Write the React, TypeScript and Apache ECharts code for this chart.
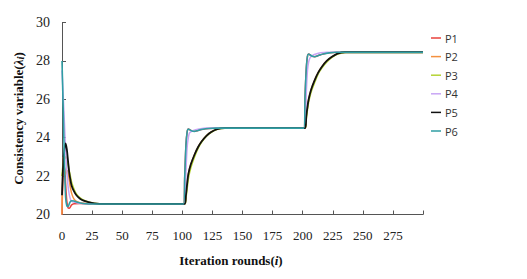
import React, { useEffect, useRef } from "react";
import * as echarts from "echarts";

const seriesNames = ["P1", "P2", "P3", "P4", "P5", "P6"];
const xTickLabels = ["0", "25", "50", "75", "100", "125", "150", "175", "200", "225", "250", "275"];
const yTickLabels = ["20", "22", "24", "26", "28", "30"];

const p1: [number, number][] = [
  [0, 20.0], [1, 22.3], [2, 22.5], [3, 21.6], [4, 20.7], [5, 20.35], [6, 20.32], [7, 20.4], [8, 20.5], [10, 20.56], [15, 20.57], [25, 20.55],
  [101, 20.55], [102, 22.0], [103, 23.6], [104, 24.3], [105, 24.45], [106, 24.42], [108, 24.35], [110, 24.33], [113, 24.38], [117, 24.44], [122, 24.48], [128, 24.5],
  [201, 24.5], [202, 26.2], [203, 27.6], [204, 28.25], [205, 28.36], [206, 28.32], [208, 28.24], [210, 28.22], [213, 28.28], [217, 28.36], [222, 28.42], [228, 28.45], [300, 28.45],
];
const p2: [number, number][] = [
  [0, 20.0], [1, 23.0], [2, 22.2], [3, 22.1], [4, 22.3], [5, 22.2], [6, 21.8], [7, 21.4], [8, 21.1], [10, 20.8], [13, 20.65], [18, 20.58], [25, 20.55],
  [102, 20.55], [103, 21.0], [104, 21.6], [105, 22.1], [107, 22.6], [110, 23.1], [113, 23.5], [116, 23.8], [120, 24.1], [124, 24.3], [129, 24.45], [135, 24.5],
  [202, 24.5], [203, 25.1], [204, 25.6], [205, 26.0], [207, 26.5], [210, 27.0], [213, 27.4], [216, 27.7], [220, 28.0], [224, 28.2], [229, 28.38], [235, 28.45], [300, 28.45],
];
const p3: [number, number][] = [
  [0, 22.0], [1, 22.6], [2, 22.9], [3, 23.0], [4, 22.9], [5, 22.6], [6, 22.25], [7, 21.95], [8, 21.65], [10, 21.3], [12, 21.05], [15, 20.86], [18, 20.74], [22, 20.65], [27, 20.58], [35, 20.55],
  [102, 20.55], [103, 20.9], [104, 21.4], [105, 21.9], [107, 22.45], [110, 23.0], [113, 23.45], [116, 23.78], [120, 24.08], [124, 24.28], [129, 24.44], [136, 24.5],
  [202, 24.5], [203, 25.0], [204, 25.5], [205, 25.9], [207, 26.4], [210, 26.9], [213, 27.35], [216, 27.65], [220, 27.95], [224, 28.17], [229, 28.36], [236, 28.45], [300, 28.45],
];
const p4: [number, number][] = [
  [0, 27.5], [1, 26.2], [2, 24.8], [3, 23.4], [4, 22.3], [5, 21.5], [6, 21.05], [7, 20.8], [8, 20.68], [10, 20.65], [13, 20.6], [20, 20.56], [30, 20.55],
  [102, 20.55], [103, 22.2], [104, 23.5], [105, 24.0], [106, 24.25], [108, 24.35], [111, 24.42], [115, 24.47], [120, 24.5],
  [202, 24.5], [203, 26.3], [204, 27.5], [205, 27.95], [206, 28.15], [208, 28.28], [211, 28.36], [215, 28.42], [220, 28.45], [300, 28.45],
];
const p5: [number, number][] = [
  [0, 21.0], [1, 22.6], [2, 23.4], [3, 23.7], [4, 23.4], [5, 22.8], [6, 22.2], [7, 21.8], [8, 21.5], [10, 21.2], [12, 21.0], [15, 20.82], [18, 20.72], [22, 20.64], [27, 20.58], [35, 20.55],
  [102, 20.55], [103, 21.0], [104, 21.6], [105, 22.1], [107, 22.6], [110, 23.1], [113, 23.5], [116, 23.8], [120, 24.1], [124, 24.3], [129, 24.45], [135, 24.5],
  [202, 24.5], [203, 25.1], [204, 25.6], [205, 26.0], [207, 26.5], [210, 27.0], [213, 27.4], [216, 27.7], [220, 28.0], [224, 28.2], [229, 28.38], [235, 28.45], [300, 28.45],
];
const p6: [number, number][] = [
  [0, 28.0], [1, 25.5], [2, 22.8], [3, 20.9], [4, 20.45], [5, 20.42], [6, 20.55], [7, 20.68], [8, 20.72], [10, 20.7], [12, 20.65], [15, 20.6], [20, 20.56], [25, 20.55],
  [101, 20.55], [102, 22.0], [103, 23.6], [104, 24.3], [105, 24.45], [106, 24.42], [108, 24.35], [110, 24.33], [113, 24.38], [117, 24.44], [122, 24.48], [128, 24.5],
  [201, 24.5], [202, 26.2], [203, 27.6], [204, 28.25], [205, 28.36], [206, 28.32], [208, 28.24], [210, 28.22], [213, 28.28], [217, 28.36], [222, 28.42], [228, 28.45], [300, 28.45],
];

const seriesData = [p1, p2, p3, p4, p5, p6];
const colors = ["#e8423c", "#f4913f", "#b5d334", "#c9a6f5", "#111111", "#2f9ea3"];
const widths = [1.5, 1.5, 1.8, 1.5, 1.8, 1.6];

export default function App() {
  const ref = useRef<HTMLDivElement>(null);
  useEffect(() => {
    if (!ref.current) return;
    const chart = echarts.init(ref.current, null, { renderer: "svg" });
    const serif = "Liberation Serif";
    chart.setOption({
      animation: false,
      backgroundColor: "#ffffff",
      grid: { left: 62, right: 104, top: 22.5, bottom: 64.5, containLabel: false },
      legend: {
        orient: "vertical",
        left: 431,
        top: 32,
        padding: 0,
        icon: "rect",
        itemWidth: 10,
        itemHeight: 1.5,
        itemGap: 6.6,
        data: seriesNames,
        textStyle: { fontFamily: "Open Sans", fontSize: 11, lineHeight: 12, color: "#333", padding: [0, 0, 0, -1] },
      },
      xAxis: {
        type: "value",
        min: 0,
        max: 300,
        interval: 25,
        axisLine: { show: true, lineStyle: { color: "#555", width: 1 } },
        axisTick: { show: true, inside: true, length: 4, lineStyle: { color: "#555" } },
        splitLine: { show: false },
        axisLabel: {
          fontFamily: serif,
          fontSize: 13,
          color: "#222",
          margin: 14,
          formatter: (v: number) => {
            const s = String(v);
            return xTickLabels.includes(s) ? s : "";
          },
        },
      },
      yAxis: {
        type: "value",
        min: 20,
        max: 30,
        interval: 2,
        axisLine: { show: true, lineStyle: { color: "#555", width: 1 } },
        axisTick: { show: true, inside: true, length: 4, lineStyle: { color: "#555" } },
        splitLine: { show: false },
        axisLabel: {
          fontFamily: serif,
          fontSize: 14,
          color: "#222",
          margin: 12,
          formatter: (v: number) => {
            const s = String(v);
            return yTickLabels.includes(s) ? s : "";
          },
        },
        name: "{b|Consistency variable(}{i|λ}{s|i}{b|)}",
        nameLocation: "middle",
        nameGap: 36,
        nameRotate: 90,
        nameTextStyle: {
          rich: {
            b: { fontFamily: serif, fontSize: 13, fontWeight: "bold", color: "#111" },
            i: { fontFamily: serif, fontSize: 13, fontWeight: "bold", fontStyle: "italic", color: "#111" },
            s: { fontFamily: serif, fontSize: 11, fontWeight: "bold", fontStyle: "italic", color: "#111", verticalAlign: "bottom" },
          },
        },
      },
      graphic: [
        {
          type: "text",
          x: 231,
          y: 260,
          style: {
            text: "{b|Iteration rounds(}{i|i}{b|)}",
            align: "center",
            verticalAlign: "middle",
            rich: {
              b: { fontFamily: serif, fontSize: 13, fontWeight: "bold", fill: "#111" },
              i: { fontFamily: serif, fontSize: 13, fontWeight: "bold", fontStyle: "italic", fill: "#111" },
            },
          },
        },
      ],
      series: seriesNames.map((name, k) => ({
        name,
        type: "line",
        data: seriesData[k],
        symbol: "none",
        smooth: 0.3,
        color: colors[k],
        lineStyle: { color: colors[k], width: widths[k] },
        z: 2 + k,
      })),
    });
    return () => chart.dispose();
  }, []);
  return <div ref={ref} style={{ position: "fixed", left: 0, top: 0, width: 527, height: 279 }} />;
}
